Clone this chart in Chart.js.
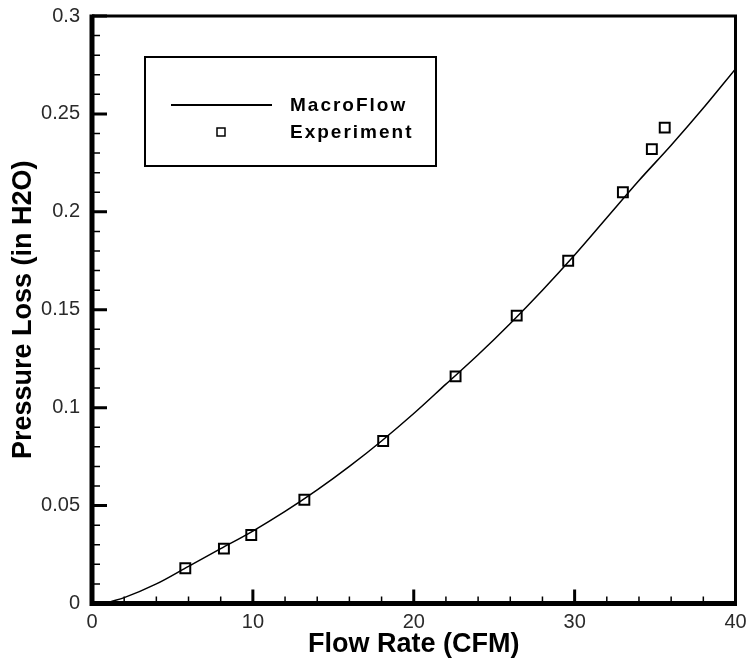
<!DOCTYPE html>
<html>
<head>
<meta charset="utf-8">
<script src="https://cdn.jsdelivr.net/npm/chart.js@4/dist/chart.umd.min.js"></script>
<style>
  html, body { margin: 0; padding: 0; background: #fff; }
  #wrap { width: 747px; height: 661px; }
</style>
</head>
<body>
<div id="wrap"><canvas id="chart"></canvas></div>
<script>
'use strict';

// MacroFlow prediction curve
const curveX = [1.2, 2, 4, 6, 8, 10, 12, 14, 16, 18, 20, 22, 24, 26, 28, 30, 32, 34, 36, 38, 40];
const curveY = [0.001, 0.003, 0.010, 0.019, 0.028, 0.037, 0.047, 0.058, 0.070, 0.083, 0.097, 0.112, 0.127, 0.143, 0.160, 0.178, 0.197, 0.216, 0.234, 0.253, 0.273];

// experimental measurements
const expX = [5.8, 8.2, 9.9, 13.2, 18.1, 22.6, 26.4, 29.6, 33.0, 34.8, 35.6];
const expY = [0.018, 0.028, 0.035, 0.053, 0.083, 0.116, 0.147, 0.175, 0.210, 0.232, 0.243];

const xTicks = [0, 10, 20, 30, 40];
const xTickLabels = ['0', '10', '20', '30', '40'];
const yTicks = [0, 0.05, 0.1, 0.15, 0.2, 0.25, 0.3];
const yTickLabels = ['0', '0.05', '0.1', '0.15', '0.2', '0.25', '0.3'];

const seriesNames = ['MacroFlow', 'Experiment'];

const toPoints = (xs, ys) => xs.map((x, i) => ({ x, y: ys[i] }));

// frame, inward ticks and the boxed legend, drawn the way the original plot has them
const framePlugin = {
    id: 'frame',
    afterDraw(chart) {
        const { ctx, chartArea: a, scales: { x, y } } = chart;
        ctx.save();
        ctx.strokeStyle = '#000';
        ctx.lineCap = 'butt';

        // minor ticks
        ctx.lineWidth = 1.5;
        ctx.beginPath();
        for (let v = 2; v < 40; v += 2) {
            if (v % 10 === 0) continue;
            const px = x.getPixelForValue(v);
            ctx.moveTo(px, a.bottom);
            ctx.lineTo(px, a.bottom - 7);
        }
        for (let i = 1; i < 30; i++) {
            if (i % 5 === 0) continue;
            const py = y.getPixelForValue(i / 100);
            ctx.moveTo(a.left, py);
            ctx.lineTo(a.left + 8, py);
        }
        ctx.stroke();

        // major ticks
        ctx.lineWidth = 3;
        ctx.beginPath();
        xTicks.forEach(v => {
            const px = x.getPixelForValue(v);
            ctx.moveTo(px, a.bottom);
            ctx.lineTo(px, a.bottom - 14);
        });
        yTicks.forEach(v => {
            const py = y.getPixelForValue(v);
            ctx.moveTo(a.left, py);
            ctx.lineTo(a.left + 15, py);
        });
        ctx.stroke();

        // frame: heavy left/bottom, lighter top/right
        ctx.lineWidth = 3;
        ctx.beginPath();
        ctx.moveTo(a.left, a.top);
        ctx.lineTo(a.right, a.top);
        ctx.lineTo(a.right, a.bottom);
        ctx.stroke();
        ctx.lineWidth = 5;
        ctx.beginPath();
        ctx.moveTo(a.left, a.top - 1.5);
        ctx.lineTo(a.left, a.bottom);
        ctx.lineTo(a.right + 1.5, a.bottom);
        ctx.stroke();

        // legend
        const lineDs = chart.data.datasets[0];
        const ptDs = chart.data.datasets[1];
        ctx.lineWidth = 2;
        ctx.strokeRect(145, 57, 291, 109);

        ctx.strokeStyle = lineDs.borderColor;
        ctx.lineWidth = 2;
        ctx.beginPath();
        ctx.moveTo(171, 105);
        ctx.lineTo(272, 105);
        ctx.stroke();

        ctx.strokeStyle = ptDs.borderColor;
        ctx.fillStyle = '#fff';
        ctx.lineWidth = 1.5;
        ctx.fillRect(217, 128, 8, 8);
        ctx.strokeRect(217, 128, 8, 8);

        ctx.fillStyle = '#000';
        ctx.font = 'bold 19px "Liberation Sans", Arial, sans-serif';
        ctx.letterSpacing = '2px';
        ctx.textBaseline = 'alphabetic';
        ctx.textAlign = 'left';
        ctx.fillText(lineDs.label, 290, 111);
        ctx.fillText(ptDs.label, 290, 138);
        ctx.restore();
    }
};

const tickFont = { family: '"Liberation Sans", Arial, sans-serif', size: 20 };
const titleFont = { family: '"Liberation Sans", Arial, sans-serif', size: 27, weight: 'bold' };

new Chart(document.getElementById('chart'), {
    type: 'scatter',
    data: {
        datasets: [
            {
                label: seriesNames[0],
                data: toPoints(curveX, curveY),
                showLine: true,
                borderColor: '#000',
                borderWidth: 1.5,
                pointRadius: 0,
                cubicInterpolationMode: 'monotone',
                fill: false
            },
            {
                label: seriesNames[1],
                data: toPoints(expX, expY),
                showLine: false,
                pointStyle: 'rect',
                pointRadius: 7,
                borderWidth: 2,
                borderColor: '#000',
                backgroundColor: '#fff'
            }
        ]
    },
    options: {
        responsive: true,
        maintainAspectRatio: false,
        animation: false,
        layout: { padding: { left: 0, top: 16, right: 11.5, bottom: 0 } },
        plugins: { legend: { display: false }, tooltip: { enabled: false } },
        scales: {
            x: {
                type: 'linear',
                min: 0,
                max: 40,
                grid: { display: false, drawTicks: false },
                border: { display: false },
                afterBuildTicks: s => { s.ticks = xTicks.map(v => ({ value: v })); },
                afterFit: s => { s.height = 57.5; s.paddingLeft = 0; s.paddingRight = 0; },
                ticks: {
                    font: tickFont,
                    color: '#2a2a2a',
                    padding: 7,
                    maxRotation: 0,
                    callback: (v, i) => xTickLabels[i]
                },
                title: {
                    display: true,
                    text: 'Flow Rate (CFM)',
                    font: titleFont,
                    color: '#000',
                    padding: { top: 0, bottom: 0 }
                }
            },
            y: {
                type: 'linear',
                min: 0,
                max: 0.3,
                grid: { display: false, drawTicks: false },
                border: { display: false },
                afterBuildTicks: s => { s.ticks = yTicks.map(v => ({ value: v })); },
                afterFit: s => { s.width = 92; s.paddingTop = 0; s.paddingBottom = 0; },
                ticks: {
                    font: tickFont,
                    color: '#2a2a2a',
                    padding: 12,
                    callback: (v, i) => yTickLabels[i]
                },
                title: {
                    display: true,
                    text: 'Pressure Loss (in H2O)',
                    font: titleFont,
                    color: '#000',
                    padding: { top: 7, bottom: 0 }
                }
            }
        }
    },
    plugins: [framePlugin]
});
</script>
</body>
</html>
